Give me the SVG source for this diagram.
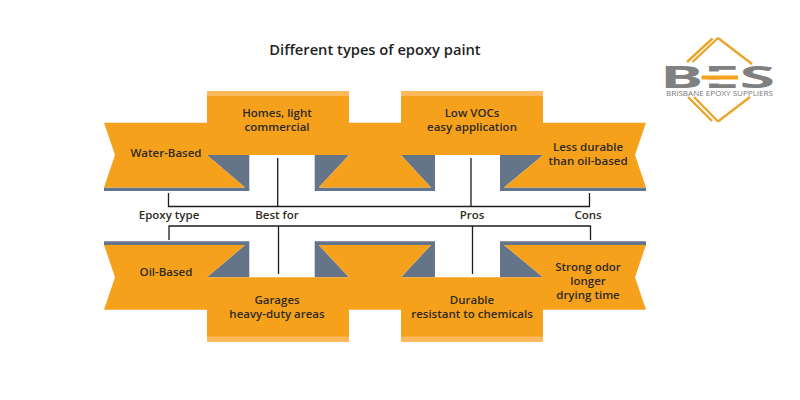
<svg xmlns="http://www.w3.org/2000/svg" width="800" height="400" viewBox="0 0 800 400">
<style>
text{font-family:"Open Sans","Liberation Sans",sans-serif;font-weight:600;font-size:11.5px;fill:#2f2a22;text-anchor:middle}
.o{fill:#f5a11c}.l{fill:#fdb85c}.g{fill:#64758a}
.c{fill:none;stroke:#1c1c1c;stroke-width:1.3}
.d{fill:none;stroke:#eba52a;stroke-width:2.4}
</style>
<rect width="800" height="400" fill="#fff"/>
<text id="title" x="375" y="55" style="font-size:14.700px;fill:#1f1f1f">Different types of epoxy paint</text>
<g id="logo">
<path class="d" d="M712.500 38.500L687 62M718 38L692.500 62M718 38L752 64M688 97L712 121M694 97L718 121.500M718 121.500L750 97"/>
<text x="660" y="88" textLength="115" lengthAdjust="spacingAndGlyphs" style="font-size:30px;font-weight:700;fill:#808080;text-anchor:start">BES</text>
<rect x="701" y="71.500" width="37" height="4.500" fill="#fff"/>
<rect x="701" y="79.300" width="37" height="4.200" fill="#fff"/>
<rect x="701.500" y="75.500" width="36.500" height="4" fill="#f5a11c"/>
<text x="719.500" y="96" textLength="107" lengthAdjust="spacingAndGlyphs" style="font-size:7.500px;font-weight:400;fill:#777">BRISBANE EPOXY SUPPLIERS</text>
</g>
<g id="connectors">
<path class="c" d="M168.500 193V206.500H589.500V193M277.700 158V206.500M471 158V206.500"/>
<path class="c" d="M169 240V226H590.500V240M278.500 226V274M472.500 226V274"/>
</g>
<g id="row-top-ribbons">
<path class="g" d="M207 155H249.300V191H104V187.500H245Z"/>
<path class="g" d="M349 155H314.700V191H435V155H401L431 187.500H318.700Z"/>
<path class="g" d="M543 155H500V191H646V187.500H504Z"/>
</g>
<g id="water-based">
<path class="o" d="M104 122.700H207V155L245 187.500H104L115 155Z"/>
<text x="166" y="157">Water-Based</text>
</g>
<g id="homes">
<path class="o" d="M207 91H349V155H207Z"/><rect class="l" x="207" y="91" width="142" height="5"/>
<text x="277" y="117">Homes, light</text><text x="277" y="131">commercial</text>
</g>
<path id="ribbon-top-mid" class="o" d="M349 122.700H401V155L431 187.500H318.700L349 155Z"/>
<g id="low-vocs">
<path class="o" d="M401 91H543V155H401Z"/><rect class="l" x="401" y="91" width="142" height="5"/>
<text x="472" y="117">Low VOCs</text><text x="472" y="131">easy application</text>
</g>
<g id="less-durable">
<path class="o" d="M543 122.700H646L635 155L646 187.500H504L543 155Z"/>
<text x="588" y="151">Less durable</text><text x="588" y="165">than oil-based</text>
</g>
<text id="l1" x="169" y="219">Epoxy type</text>
<text id="l2" x="277" y="219">Best for</text>
<text id="l3" x="472" y="219">Pros</text>
<text id="l4" x="588" y="219">Cons</text>
<g id="row-bottom-ribbons">
<path class="g" d="M207 277.300H249.300V241.300H104V245H245Z"/>
<path class="g" d="M349 277.300H314.700V241.300H435V277.300H401L431 245H318.700Z"/>
<path class="g" d="M543 277.300H500V241.300H646V245H504Z"/>
</g>
<g id="oil-based">
<path class="o" d="M104 245H245L207 277.300V309.700H104L115 277.300Z"/>
<text x="166" y="276">Oil-Based</text>
</g>
<g id="garages">
<path class="o" d="M207 277.300H349V342H207Z"/><rect class="l" x="207" y="336.500" width="142" height="5.500"/>
<text x="277" y="304">Garages</text><text x="277" y="318">heavy-duty areas</text>
</g>
<path id="ribbon-bottom-mid" class="o" d="M318.700 245H431L401 277.300V309.700H349V277.300Z"/>
<g id="durable">
<path class="o" d="M401 277.300H543V342H401Z"/><rect class="l" x="401" y="336.500" width="142" height="5.500"/>
<text x="472" y="304">Durable</text><text x="472" y="318">resistant to chemicals</text>
</g>
<g id="strong-odor">
<path class="o" d="M504 245H646L635 277.300L646 309.700H543V277.300Z"/>
<text x="588" y="271">Strong odor</text><text x="588" y="285">longer</text><text x="588" y="299">drying time</text>
</g>
</svg>
